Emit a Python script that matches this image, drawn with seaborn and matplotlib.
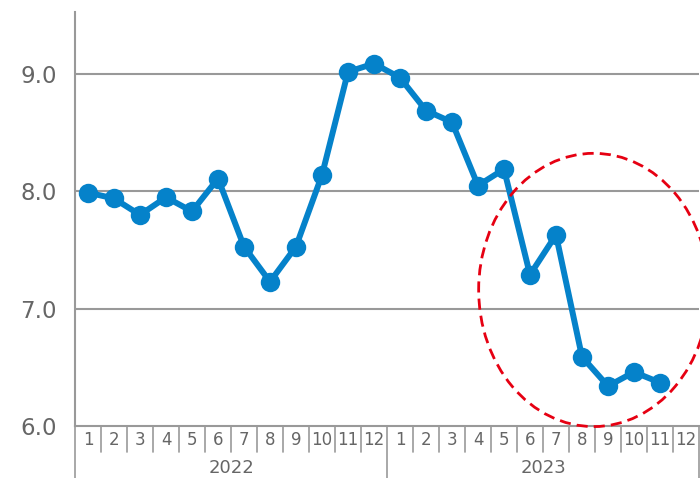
import matplotlib
matplotlib.use("Agg")
import matplotlib.pyplot as plt
from matplotlib.patches import Ellipse
import matplotlib.transforms as mtransforms
import numpy as np
import pandas as pd
import seaborn as sns

years = ["2022", "2023"]
months = [str(m) for m in range(1, 13)]
values = [7.99, 7.94, 7.80, 7.95, 7.83, 8.11, 7.53, 7.23, 7.53, 8.14, 9.02, 9.09,
          8.97, 8.69, 8.59, 8.05, 8.19, 7.29, 7.63, 6.59, 6.34, 6.46, 6.37]
yticks = [6.0, 7.0, 8.0, 9.0]

df = pd.DataFrame({"pos": np.arange(len(values)), "value": values})

sns.set_style("white")
plt.rcParams['font.family'] = ['DejaVu Sans']

grey = "#999999"
text_grey = "#666666"
blue = "#0582CA"

fig = plt.figure(figsize=(7, 4.78), dpi=100)
ax = fig.add_axes([75 / 700, 52 / 478, 624 / 700, 414 / 478])

for y in yticks[1:]:
    ax.axhline(y, color=grey, lw=1.5, zorder=1)

sns.lineplot(data=df, x="pos", y="value", ax=ax, color=blue, lw=4.3,
             marker="o", markersize=14, markeredgewidth=0, zorder=3)

ax.set_xlim(-0.5, 23.5)
ax.set_ylim(6.0, 9.53)
ax.set_yticks(yticks)
ax.set_yticklabels([f"{v:.1f}" for v in yticks])
ax.tick_params(axis="y", length=8, width=1.5, color=grey, labelcolor=text_grey,
               labelsize=16.5, pad=5)
ax.set_xticks([])
ax.set_xlabel("")
ax.set_ylabel("")

for s in ["top", "right"]:
    ax.spines[s].set_visible(False)
ax.spines["left"].set_color(grey)
ax.spines["left"].set_linewidth(1.5)
ax.spines["bottom"].set_color(grey)
ax.spines["bottom"].set_linewidth(1.5)

# category axis: months and years
trans = mtransforms.blended_transform_factory(ax.transData, ax.transAxes)
px = 1 / 414
for i in range(25):
    b = i - 0.5
    long = i % 12 == 0
    ax.plot([b, b], [0, -(52 if long else 26) * px], color=grey, lw=1.2,
            transform=trans, clip_on=False)
for k, yr in enumerate(years):
    for j, m in enumerate(months):
        ax.text(k * 12 + j, -14 * px, m, transform=trans, ha="center", va="center",
                fontsize=12, color=text_grey)
    ax.text(k * 12 + 5.5, -42 * px, yr, transform=trans, ha="center", va="center",
            fontsize=13, color=text_grey)

ell = Ellipse((19.45, 7.16), width=8.85, height=2.33, fill=False,
              edgecolor="#E60012", lw=2.0, linestyle=(0, (4, 2.2)), zorder=4,
              clip_on=False)
ax.add_patch(ell)

fig.savefig("out.png", dpi=100)
